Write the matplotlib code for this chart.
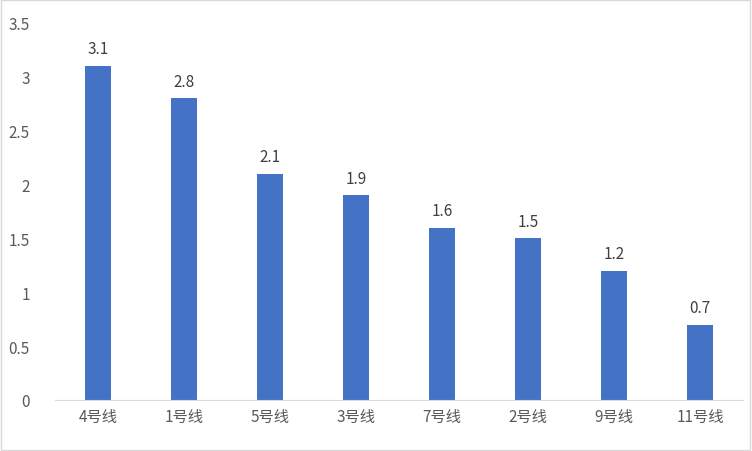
import matplotlib
matplotlib.use("Agg")
import matplotlib.pyplot as plt
from matplotlib.patches import Rectangle

plt.rcParams['font.family'] = ['Noto Sans CJK SC', 'DejaVu Sans']

categories = ["4号线", "1号线", "5号线", "3号线", "7号线", "2号线", "9号线", "11号线"]
values = [3.1, 2.8, 2.1, 1.9, 1.6, 1.5, 1.2, 0.7]
yticks = [0, 0.5, 1, 1.5, 2, 2.5, 3, 3.5]
ytick_labels = ["0", "0.5", "1", "1.5", "2", "2.5", "3", "3.5"]

fig = plt.figure(figsize=(7.52, 4.52), dpi=100)
ax = fig.add_axes([0.073, 0.113, 0.915, 0.834])
x = range(len(categories))
ax.bar(x, values, width=0.3, color="#4472C4")
for xi, v in zip(x, values):
    ax.text(xi, v + 0.08, f"{v}", ha="center", va="bottom", fontsize=11, color="#404040")
ax.set_xlim(-0.5, len(categories) - 0.5)
ax.set_ylim(0, 3.5)
ax.set_yticks(yticks)
ax.set_yticklabels(ytick_labels)
ax.set_xticks(list(x))
ax.set_xticklabels(categories)
ax.tick_params(axis="both", length=0, labelsize=11, colors="#595959")
ax.tick_params(axis="y", pad=18)
ax.tick_params(axis="x", pad=6)
for s in ["top", "right", "left"]:
    ax.spines[s].set_visible(False)
ax.spines["bottom"].set_color("#D9D9D9")
fig.patches.append(Rectangle((0.001, 0.002), 0.997, 0.996, transform=fig.transFigure,
                             fill=False, edgecolor="#D9D9D9", linewidth=1))
fig.savefig("out.png", dpi=100)
